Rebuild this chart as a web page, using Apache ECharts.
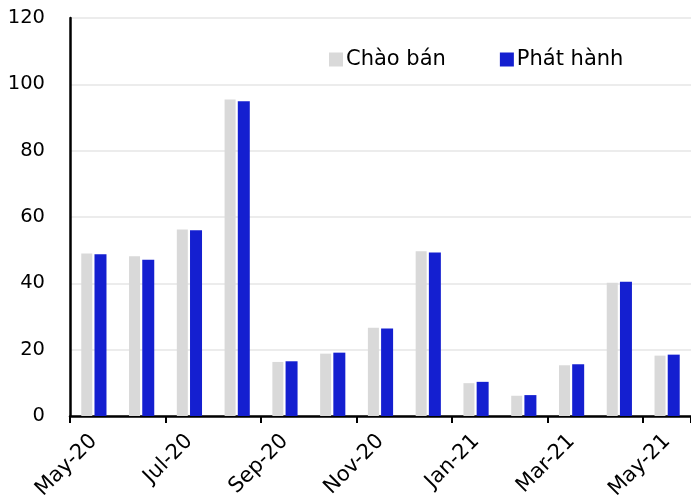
<!DOCTYPE html>
<html>
<head>
<meta charset="utf-8">
<script src="https://cdn.jsdelivr.net/npm/echarts@6/dist/echarts.min.js"></script>
<style>
  html, body { margin: 0; padding: 0; background: #fff; }
  #chart { width: 691px; height: 504px; }
</style>
</head>
<body>
<div id="chart"></div>
<script>
// Monthly volumes: offered vs issued
const months = ['May-20','Jun-20','Jul-20','Aug-20','Sep-20','Oct-20','Nov-20','Dec-20','Jan-21','Feb-21','Mar-21','Apr-21','May-21'];
const chaoBan  = [49.0, 48.2, 56.2, 95.4, 16.3, 18.8, 26.6, 49.7, 9.9, 6.1, 15.3, 40.2, 18.2];
const phatHanh = [48.8, 47.1, 56.0, 94.9, 16.5, 19.1, 26.4, 49.3, 10.3, 6.3, 15.6, 40.5, 18.5];
const seriesNames = ['Chào bán', 'Phát hành'];

const FONT = 'DejaVu Sans';
const chart = echarts.init(document.getElementById('chart'), null, { renderer: 'canvas' });

chart.setOption({
  animation: false,
  backgroundColor: '#ffffff',
  textStyle: { fontFamily: FONT },
  legend: {
    data: seriesNames,
    left: 329,
    top: 49,
    padding: 0,
    itemWidth: 14,
    itemHeight: 14,
    itemGap: 54,
    icon: 'rect',
    textStyle: { fontFamily: FONT, fontSize: 21, color: '#000', padding: [0, 0, 0, -2] }
  },
  grid: { left: 70, right: -3, top: 18, bottom: 88, containLabel: false },
  xAxis: {
    type: 'category',
    data: months,
    boundaryGap: true,
    axisLine: { lineStyle: { color: '#000', width: 2.5 } },
    axisTick: { show: true, interval: 1, length: 7, lineStyle: { color: '#000', width: 2 } },
    axisLabel: {
      interval: 1,
      rotate: 45,
      margin: 22,
      fontFamily: FONT,
      fontSize: 21,
      color: '#000'
    },
    splitLine: { show: false }
  },
  yAxis: {
    type: 'value',
    min: 0,
    max: 120,
    interval: 20,
    axisLine: { show: true, lineStyle: { color: '#000', width: 2.5 } },
    axisTick: { show: false },
    axisLabel: { margin: 25, fontFamily: FONT, fontSize: 19.5, color: '#000' },
    splitLine: { lineStyle: { color: '#e6e6e6', width: 1.5 } }
  },
  series: [
    {
      name: seriesNames[0],
      type: 'bar',
      data: chaoBan,
      barWidth: 11,
      barGap: '20%',
      itemStyle: { color: '#d9d9d9' }
    },
    {
      name: seriesNames[1],
      type: 'bar',
      data: phatHanh,
      barWidth: 12,
      itemStyle: { color: '#141fd0' }
    }
  ]
});
</script>
</body>
</html>
